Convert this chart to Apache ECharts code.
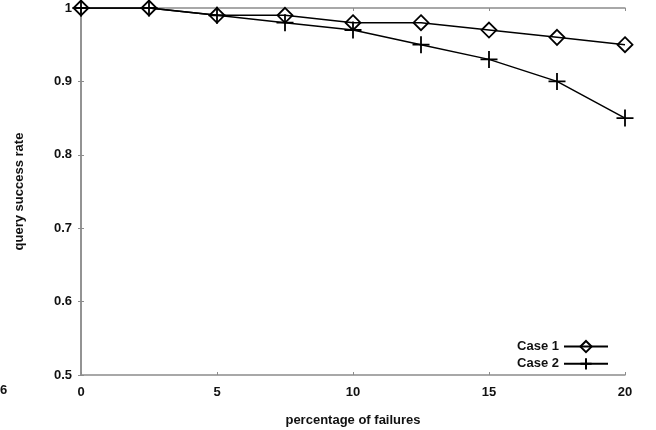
<!DOCTYPE html>
<html><head><meta charset="utf-8">
<script src="https://cdn.jsdelivr.net/npm/echarts@6/dist/echarts.min.js"></script>
<style>html,body{margin:0;padding:0;background:#fff}#c{width:656px;height:430px}</style>
</head><body><div id="c"></div>
<script>
var failures = [0, 2.5, 5, 7.5, 10, 12.5, 15, 17.5, 20];
var case1 = [1, 1, 0.99, 0.99, 0.98, 0.98, 0.97, 0.96, 0.95];
var case2 = [1, 1, 0.99, 0.98, 0.97, 0.95, 0.93, 0.90, 0.85];
var seriesNames = ['Case 1', 'Case 2'];

function pairs(xs, ys){ return xs.map(function(x,i){ return [x, ys[i]]; }); }

var axisLine = {show:true, lineStyle:{color:'#8c8c8c', width:1.5}};
var font = 'Liberation Sans, Arial, sans-serif';
var chart = echarts.init(document.getElementById('c'));
chart.setOption({
  animation:false,
  backgroundColor:'#fff',
  textStyle:{fontFamily:font},
  grid:{left:81, right:31, top:8, bottom:55, containLabel:false, outerBoundsMode:'none'},
  legend:{
    right:42, top:335, orient:'vertical', align:'right',
    itemWidth:44, itemHeight:14, itemGap:4,
    textStyle:{fontSize:13, color:'#111', fontWeight:'bold', fontFamily:font},
    data:seriesNames
  },
  xAxis:[{
    type:'value', min:0, max:20, interval:5,
    name:'percentage of failures', nameLocation:'middle', nameGap:39,
    nameTextStyle:{fontSize:13, color:'#111', fontWeight:'bold', fontFamily:font},
    axisLine:axisLine,
    axisTick:{show:true, inside:true, length:3, lineStyle:{color:'#8c8c8c'}},
    axisLabel:{fontSize:13, color:'#111', fontWeight:'bold', margin:11, fontFamily:font},
    splitLine:{show:false}
  },{
    type:'value', min:0, max:20, interval:5, position:'top',
    axisLine:axisLine,
    axisTick:{show:true, inside:true, length:3, lineStyle:{color:'#8c8c8c'}},
    axisLabel:{show:false}, splitLine:{show:false}
  }],
  yAxis:[{
    type:'value', min:0.5, max:1, interval:0.1,
    name:'query success rate', nameLocation:'middle', nameGap:55, nameRotate:90,
    nameTextStyle:{fontSize:13, color:'#111', fontWeight:'bold', fontFamily:font},
    axisLine:axisLine,
    axisTick:{show:true, inside:true, length:3, lineStyle:{color:'#8c8c8c'}},
    axisLabel:{fontSize:13, color:'#111', fontWeight:'bold', margin:9, fontFamily:font,
      formatter:function(v){ return Math.abs(v-1)<1e-9 ? '1' : v.toFixed(1); }},
    splitLine:{show:false}
  },{
    type:'value', min:0.5, max:1, interval:0.1, position:'right',
    axisLine:axisLine,
    axisTick:{show:true, inside:true, length:3, lineStyle:{color:'#8c8c8c'}},
    axisLabel:{show:false}, splitLine:{show:false}
  }],
  graphic:[{type:'text', left:0, top:384, style:{text:'6', fontSize:13, fontWeight:'bold', fill:'#111', fontFamily:font}}],
  series:[{
    name:seriesNames[0], type:'line', data:pairs(failures, case1),
    symbol:'diamond', symbolSize:[15,15], showAllSymbol:true,
    lineStyle:{color:'#000', width:1.5},
    itemStyle:{color:'rgba(0,0,0,0)', borderColor:'#000', borderWidth:1.8},
    z:3
  },{
    name:seriesNames[1], type:'line', data:pairs(failures, case2),
    symbol:'path://M0,8L16,8M8,0L8,16', symbolSize:[17,17], showAllSymbol:true,
    lineStyle:{color:'#000', width:1.5},
    itemStyle:{color:'rgba(0,0,0,0)', borderColor:'#000', borderWidth:1.8},
    z:3
  }]
});
</script></body></html>
